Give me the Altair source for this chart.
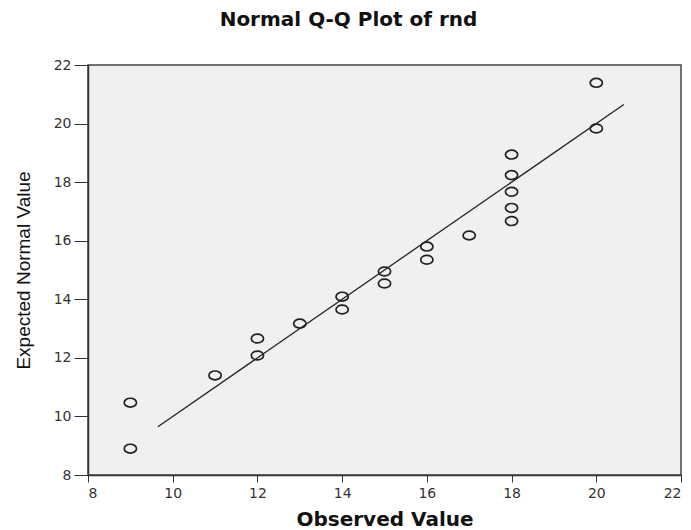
import altair as alt
import pandas as pd

# Observed values and their expected normal quantiles
observed = [9, 9, 11, 12, 12, 13, 14, 14, 15, 15, 16, 16, 17, 18, 18, 18, 18, 18, 20, 20]
expected = [8.90, 10.47, 11.40, 12.08, 12.66, 13.17, 13.65, 14.09, 14.54, 14.95,
            15.35, 15.80, 16.18, 16.67, 17.12, 17.67, 18.24, 18.94, 19.83, 21.39]

# Reference line y = x across the range of the data
line_x = [9.65, 20.65]

ticks = [8, 10, 12, 14, 16, 18, 20, 22]

points = pd.DataFrame({"observed": observed, "expected": expected})
ref = pd.DataFrame({"observed": line_x, "expected": line_x})

xscale = alt.Scale(domain=[8, 22], nice=False, zero=False)
yscale = alt.Scale(domain=[8, 22], nice=False, zero=False)

x_axis = alt.Axis(
    title="Observed Value", values=ticks, grid=False,
    tickSize=7, tickColor="#333", domainColor="#333", domainWidth=1.5,
    labelFont="DejaVu Sans", labelFontSize=14, labelColor="#333", labelPadding=4,
    titleFont="DejaVu Sans", titleFontSize=20, titleFontWeight="bold",
    titleColor="#111", titlePadding=9,
)
y_axis = alt.Axis(
    title="Expected Normal Value", values=ticks, grid=False,
    tickSize=14, tickColor="#333", domainColor="#333", domainWidth=1.5,
    labelFont="DejaVu Sans", labelFontSize=14, labelColor="#333", labelPadding=3,
    titleFont="Liberation Sans", titleFontSize=19, titleFontWeight="normal",
    titleColor="#111", titlePadding=20,
)

# open ellipses, slightly wider than tall
ellipse = "M -1 0 A 1 0.72 0 1 0 1 0 A 1 0.72 0 1 0 -1 0 Z"

dots = alt.Chart(points).mark_point(
    shape=ellipse, size=150, filled=False, stroke="#222", strokeWidth=1.7, opacity=1
).encode(
    x=alt.X("observed:Q", scale=xscale, axis=x_axis),
    y=alt.Y("expected:Q", scale=yscale, axis=y_axis),
)

line = alt.Chart(ref).mark_line(color="#222", strokeWidth=1.3).encode(
    x=alt.X("observed:Q", scale=xscale),
    y=alt.Y("expected:Q", scale=yscale),
)

chart = alt.layer(line, dots).properties(
    width=593,
    height=410,
    autosize=alt.AutoSizeParams(type="none"),
    padding={"left": 88, "top": 65, "right": 10, "bottom": 55},
    background="white",
    title=alt.TitleParams(
        "Normal Q-Q Plot of rnd", font="DejaVu Sans", fontSize=20,
        fontWeight="bold", color="#111", anchor="middle", frame="group",
        dx=-36, offset=28,
    ),
).configure_view(
    fill="#F0F0F0", stroke="#444", strokeWidth=1.5
)

chart.save("out.html", embed_options={"renderer": "svg", "actions": False})
